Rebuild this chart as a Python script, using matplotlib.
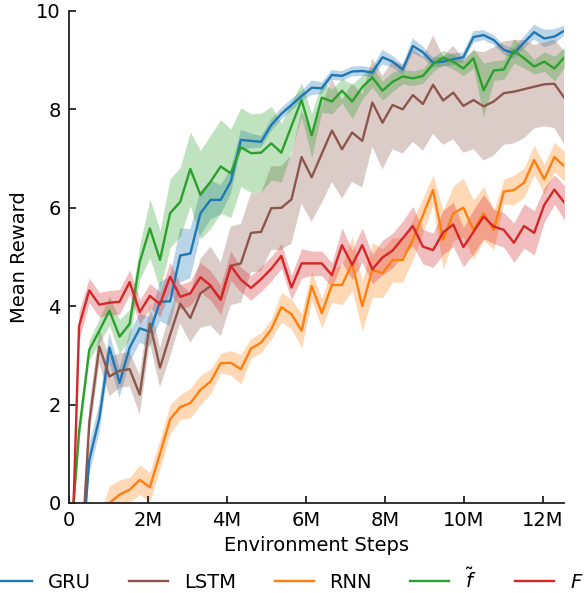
import numpy as np
import matplotlib
matplotlib.use("Agg")
import matplotlib.pyplot as plt
from matplotlib.ticker import FuncFormatter

# environment steps (50 evaluation points)
steps = np.arange(50) * 256000

gru = [-3.5, -1.85, 0.87, 1.72, 3.16, 2.44, 3.16, 3.55, 3.48, 4.09,
       4.10, 5.03, 5.07, 5.89, 6.16, 6.16, 6.53, 7.38, 7.36, 7.34,
       7.68, 7.91, 8.09, 8.27, 8.44, 8.43, 8.70, 8.68, 8.77, 8.78,
       8.75, 9.06, 8.97, 8.81, 9.29, 9.16, 8.95, 8.97, 9.02, 9.06,
       9.47, 9.51, 9.41, 9.21, 9.14, 9.36, 9.57, 9.44, 9.48, 9.60]
gru_err = [0.3, 0.3, 0.3, 0.3, 0.3, 0.3, 0.3, 0.3, 0.3, 0.4,
           0.5, 0.55, 0.5, 0.45, 0.4, 0.3, 0.25, 0.2, 0.15, 0.12,
           0.12, 0.12, 0.12, 0.1, 0.15, 0.12, 0.1, 0.1, 0.1, 0.1,
           0.1, 0.15, 0.12, 0.1, 0.15, 0.12, 0.1, 0.1, 0.12, 0.1,
           0.12, 0.1, 0.1, 0.1, 0.1, 0.12, 0.15, 0.18, 0.15, 0.1]

lstm = [-3.5, -1.96, 1.62, 3.18, 2.57, 2.69, 2.72, 2.20, 3.65, 2.75,
        3.42, 4.05, 3.76, 4.26, 4.41, 4.14, 4.82, 4.87, 5.49, 5.51,
        5.99, 6.00, 6.17, 7.03, 6.62, 7.10, 7.57, 7.19, 7.53, 7.36,
        8.14, 7.73, 8.09, 8.00, 8.29, 8.11, 8.50, 8.18, 8.34, 8.07,
        8.19, 8.06, 8.16, 8.33, 8.36, 8.41, 8.46, 8.51, 8.52, 8.23]
lstm_err = [0.3, 0.3, 0.3, 0.35, 0.4, 0.35, 0.35, 0.4, 0.4, 0.4,
            0.45, 0.4, 0.5, 0.7, 0.8, 0.75, 0.8, 0.8, 0.8, 0.8,
            0.85, 0.85, 0.9, 0.95, 0.9, 1.0, 1.05, 1.0, 1.0, 0.95,
            0.9, 0.95, 0.9, 0.9, 0.95, 0.95, 1.0, 0.9, 0.95, 0.95,
            1.0, 1.1, 1.1, 1.05, 1.05, 1.0, 0.85, 0.85, 0.9, 0.95]

rnn = [-1.5, -1.3, -1.0, -0.6, 0.0, 0.17, 0.27, 0.47, 0.32, 1.0,
       1.70, 1.95, 2.03, 2.30, 2.47, 2.84, 2.85, 2.72, 3.14, 3.26,
       3.53, 3.98, 3.84, 3.50, 4.41, 3.86, 4.43, 4.43, 4.87, 4.00,
       4.74, 4.67, 4.94, 4.94, 5.35, 5.85, 6.36, 5.35, 5.89, 6.00,
       5.55, 5.89, 5.55, 6.33, 6.36, 6.51, 6.97, 6.58, 7.03, 6.84]
rnn_err = [0.35, 0.35, 0.35, 0.35, 0.35, 0.3, 0.25, 0.3, 0.3, 0.3,
           0.3, 0.25, 0.3, 0.3, 0.25, 0.2, 0.25, 0.3, 0.2, 0.2,
           0.2, 0.3, 0.3, 0.35, 0.3, 0.3, 0.35, 0.4, 0.55, 0.5,
           0.55, 0.5, 0.45, 0.45, 0.4, 0.35, 0.3, 0.6, 0.55, 0.6,
           0.6, 0.55, 0.4, 0.25, 0.3, 0.3, 0.3, 0.3, 0.3, 0.3]

f_tilde = [-1.2, 1.45, 3.11, 3.50, 3.91, 3.38, 3.64, 4.90, 5.58, 4.94,
           5.89, 6.12, 6.79, 6.26, 6.53, 6.84, 6.70, 7.23, 7.11, 7.12,
           7.31, 7.12, 7.66, 8.19, 7.47, 8.24, 8.16, 8.38, 8.16, 8.45,
           8.65, 8.38, 8.56, 8.67, 8.63, 8.68, 8.92, 9.05, 8.97, 8.83,
           9.04, 8.39, 8.79, 8.81, 9.19, 9.04, 8.87, 8.97, 8.83, 9.06]
f_tilde_err = [0.2, 0.2, 0.2, 0.25, 0.3, 0.35, 0.3, 0.35, 0.6, 0.6,
               0.7, 0.7, 0.75, 0.9, 0.95, 0.95, 0.9, 0.8, 0.8, 0.8,
               0.75, 0.6, 0.5, 0.35, 0.45, 0.3, 0.25, 0.25, 0.35, 0.25,
               0.2, 0.2, 0.2, 0.15, 0.15, 0.15, 0.15, 0.15, 0.15, 0.15,
               0.2, 0.55, 0.2, 0.2, 0.25, 0.2, 0.15, 0.2, 0.25, 0.2]

big_f = [-3.0, 3.60, 4.32, 4.03, 4.07, 4.09, 4.49, 3.88, 4.21, 4.04,
         4.60, 4.19, 4.26, 4.59, 4.42, 4.13, 4.82, 4.54, 4.37, 4.55,
         4.76, 5.02, 4.38, 4.87, 4.87, 4.87, 4.63, 5.24, 4.84, 5.24,
         4.75, 4.99, 5.13, 5.38, 5.63, 5.21, 5.14, 5.50, 5.66, 5.20,
         5.51, 5.82, 5.62, 5.55, 5.29, 5.63, 5.49, 6.06, 6.37, 6.10]
big_f_err = [0.3, 0.3, 0.25, 0.25, 0.25, 0.25, 0.25, 0.25, 0.25, 0.25,
             0.3, 0.25, 0.25, 0.3, 0.3, 0.3, 0.3, 0.25, 0.25, 0.25,
             0.25, 0.25, 0.25, 0.3, 0.25, 0.25, 0.25, 0.35, 0.3, 0.35,
             0.3, 0.35, 0.35, 0.35, 0.4, 0.35, 0.35, 0.45, 0.45, 0.4,
             0.45, 0.45, 0.35, 0.35, 0.4, 0.45, 0.45, 0.35, 0.3, 0.35]

labels = ["GRU", "LSTM", "RNN", r"$\tilde{f}$", r"$F$"]
colors = ["#1f77b4", "#8c564b", "#ff7f0e", "#2ca02c", "#d62728"]
means = [gru, lstm, rnn, f_tilde, big_f]
errs = [gru_err, lstm_err, rnn_err, f_tilde_err, big_f_err]

plt.rcParams["font.family"] = ["DejaVu Sans"]
fig = plt.figure(figsize=(5.86, 5.93), dpi=100)
ax = fig.add_axes([0.1177, 0.1518, 0.8456, 0.8297])

x = np.asarray(steps, dtype=float)
for lab, col, m, e in zip(labels, colors, means, errs):
    m = np.asarray(m)
    e = np.asarray(e)
    ax.fill_between(x, m - e, m + e, color=col, alpha=0.3, linewidth=0)
    ax.plot(x, m, color=col, lw=1.7, label=lab)

ax.set_xlim(0, x[-1])
ax.set_ylim(0, 10)
ax.set_xticks([0, 2e6, 4e6, 6e6, 8e6, 10e6, 12e6])
ax.set_yticks([0, 2, 4, 6, 8, 10])
ax.xaxis.set_major_formatter(FuncFormatter(lambda v, p: "0" if v == 0 else f"{int(round(v / 1e6))}M"))
for s in ["top", "right"]:
    ax.spines[s].set_visible(False)
for s in ["left", "bottom"]:
    ax.spines[s].set_linewidth(1.3)
    ax.spines[s].set_color("#222222")
ax.tick_params(direction="in", length=5, width=1.3, labelsize=14, colors="#222222",
               labelcolor="black", pad=6)
ax.set_xlabel("Environment Steps", fontsize=14, labelpad=4)
ax.set_ylabel("Mean Reward", fontsize=14, labelpad=5)

handles, labs = ax.get_legend_handles_labels()
fig.legend(handles, labs, loc="lower center", bbox_to_anchor=(0.4915, -0.027),
           ncol=5, frameon=False, fontsize=14)

fig.savefig("out.png", dpi=100)
